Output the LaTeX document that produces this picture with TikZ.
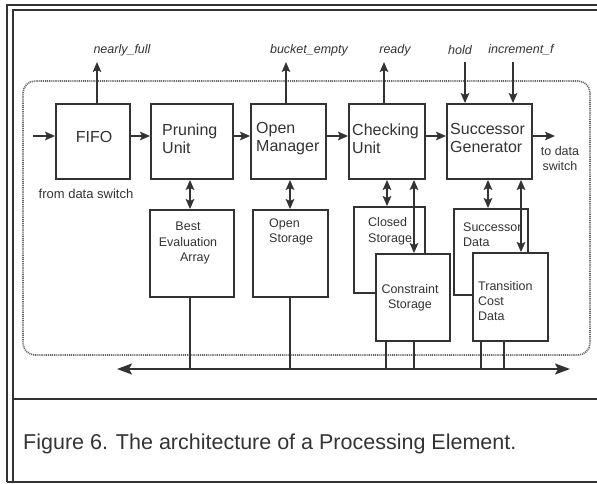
\documentclass[tikz,border=0pt]{standalone}
\usepackage{fontspec}
\setmainfont{Liberation Sans}
\usetikzlibrary{arrows.meta}
\definecolor{ink}{HTML}{333333}
\tikzset{
  blk/.style={draw=ink, line width=1.8pt, fill=white, inner sep=0pt},
  bigtxt/.style={text=ink, font=\fontsize{16}{18}\selectfont, inner sep=0pt, align=left},
  smalltxt/.style={text=ink, font=\fontsize{12.5}{15.5}\selectfont, inner sep=0pt, align=left},
  sigtxt/.style={text=ink, font=\fontsize{12.5}{15}\selectfont\itshape, inner sep=0pt},
  wire/.style={draw=ink, line width=1.8pt},
  sig/.style={-{Stealth[length=10pt,width=8.5pt,inset=2pt]}},
  duplex/.style={{Stealth[length=10pt,width=8.5pt,inset=2pt]}-{Stealth[length=10pt,width=8.5pt,inset=2pt]}},
  busarrow/.style={{Stealth[length=15pt,width=11pt,inset=3pt]}-{Stealth[length=15pt,width=11pt,inset=3pt]}},
  region/.style={draw=ink!75, line width=1.7pt, dash pattern=on 1pt off 0.9pt, rounded corners=12pt, inner sep=0pt},
  frame/.style={draw=ink, line width=1.6pt},
}
\begin{document}
\begin{tikzpicture}[x=1pt,y=-1pt]
\useasboundingbox (0,0) rectangle (597,484);

% page frame and caption rule
\draw[frame] (7,482) -- (7,5) -- (597,5);
\draw[frame] (13,482) -- (13,10) -- (597,10);
\draw[frame] (7,482) -- (597,482);
\draw[frame] (13,399) -- (597,399);

% processing element boundary
\node[region, minimum width=567pt, minimum height=274pt] (pe) at (306.5,218) {};

% pipeline stages
\node[blk, minimum width=74pt, minimum height=75pt] (fifo) at (93,141.5) {};
\node[blk, minimum width=82pt, minimum height=75pt] (pru)  at (192,141.5) {};
\node[blk, minimum width=75pt, minimum height=75pt] (om)   at (288.5,141.5) {};
\node[blk, minimum width=76pt, minimum height=75pt] (chk)  at (387,141.5) {};
\node[blk, minimum width=85pt, minimum height=75pt] (sg)   at (489.5,141.5) {};

% memories
\node[blk, minimum width=84pt, minimum height=87pt] (bea) at (192,253.5) {};
\node[blk, minimum width=75pt, minimum height=87pt] (ost) at (290.5,253.5) {};
\node[blk, minimum width=71pt, minimum height=86pt] (cst) at (389.5,250) {};
\node[blk, minimum width=74pt, minimum height=86pt] (sd)  at (491,252) {};
\node[blk, minimum width=74pt, minimum height=87pt] (cons) at (413,297.5) {};
\node[blk, minimum width=75pt, minimum height=88pt] (tcd) at (510.5,297) {};

% box texts
\node[bigtxt] (fifoT) at (94,137) {FIFO};
\node[bigtxt, anchor=west] (pruT) at (162,139) {Pruning\\Unit};
\node[bigtxt, anchor=west] (omT)  at (256,139) {Open\\Manager};
\node[bigtxt, anchor=west] (chkT) at (352,139) {Checking\\Unit};
\node[bigtxt, anchor=west] (sgT)  at (450,138) {Successor\\Generator};

\node[smalltxt, align=center] (beaT) at (188,243) {Best\\Evaluation\\\hspace*{14pt}Array};
\node[smalltxt, anchor=west] (ostT) at (269,232) {Open\\Storage};
\node[smalltxt, anchor=west] (cstT) at (368,231.5) {Closed\\Storage};
\node[smalltxt, anchor=west] (sdT)  at (463,234.5) {Successor\\Data};
\node[smalltxt, align=center] (consT) at (410,298) {Constraint\\Storage};
\node[smalltxt, anchor=west, font=\fontsize{12.5}{15}\selectfont] (tcdT) at (478,301) {Transition\\Cost\\Data};

\node[smalltxt, align=center] (toT) at (560,158.5) {to data\\switch};
\node[smalltxt, font=\fontsize{13}{15}\selectfont] (fromT) at (86,194) {from data switch};

% control signals
\node[sigtxt] (nfL) at (122,50) {nearly\_full};
\node[sigtxt] (beL) at (309,50) {bucket\_empty};
\node[sigtxt] (rdL) at (395,50) {ready};
\node[sigtxt] (hdL) at (460,50) {hold};
\node[sigtxt] (icL) at (521,50) {increment\_f};

\coordinate (nfEnd) at (97,62);
\coordinate (beEnd) at (286,62);
\coordinate (rdEnd) at (384,62);
\coordinate (hdBeg) at (465,62);
\coordinate (icBeg) at (513,62);
\draw[wire, sig] (fifo.north -| nfEnd) -- (nfEnd);
\draw[wire, sig] (om.north -| beEnd) -- (beEnd);
\draw[wire, sig] (chk.north -| rdEnd) -- (rdEnd);
\draw[wire, sig] (hdBeg) -- (sg.north -| hdBeg);
\draw[wire, sig] (icBeg) -- (sg.north -| icBeg);

% data path
\coordinate (inBeg) at (33,136);
\coordinate (outEnd) at (555,136);
\draw[wire, sig] (inBeg) -- (fifo.west |- inBeg);
\draw[wire, sig] (fifo.east |- inBeg) -- (pru.west |- inBeg);
\draw[wire, sig] (pru.east |- inBeg) -- (om.west |- inBeg);
\draw[wire, sig] (om.east |- inBeg) -- (chk.west |- inBeg);
\draw[wire, sig] (chk.east |- inBeg) -- (sg.west |- inBeg);
\draw[wire, sig] (sg.east |- inBeg) -- (outEnd);

% stage to memory links
\coordinate (xa) at (190,0);
\coordinate (xb) at (290,0);
\coordinate (xc) at (387,0);
\coordinate (xd) at (414,0);
\coordinate (xe) at (488,0);
\coordinate (xf) at (521,0);
\draw[wire, duplex] (pru.south -| xa) -- (bea.north -| xa);
\draw[wire, duplex] (om.south -| xb) -- (ost.north -| xb);
\draw[wire, duplex] (chk.south -| xc) -- (cst.north -| xc);
\draw[wire, duplex] (chk.south -| xd) -- (cons.north -| xd);
\draw[wire, duplex] (sg.south -| xe) -- (sd.north -| xe);
\draw[wire, duplex] (sg.south -| xf) -- (tcd.north -| xf);

% external bus
\coordinate (busL) at (117,369);
\coordinate (busR) at (570,369);
\draw[wire, busarrow] (busL) -- (busR);
\coordinate (ya) at (386,0);
\coordinate (yb) at (414,0);
\coordinate (yc) at (481,0);
\coordinate (yd) at (504,0);
\draw[wire] (bea.south -| xa) -- (busL -| xa);
\draw[wire] (ost.south -| xb) -- (busL -| xb);
\draw[wire] (cons.south -| ya) -- (busL -| ya);
\draw[wire] (cons.south -| yb) -- (busL -| yb);
\draw[wire] (tcd.south -| yc) -- (busL -| yc);
\draw[wire] (tcd.south -| yd) -- (busL -| yd);

% caption
\node[text=ink, font=\fontsize{21.5}{24}\selectfont, inner sep=0pt, anchor=base west] (cap) at (23,449) {Figure 6. The architecture of a Processing Element.};
\end{tikzpicture}
\end{document}
